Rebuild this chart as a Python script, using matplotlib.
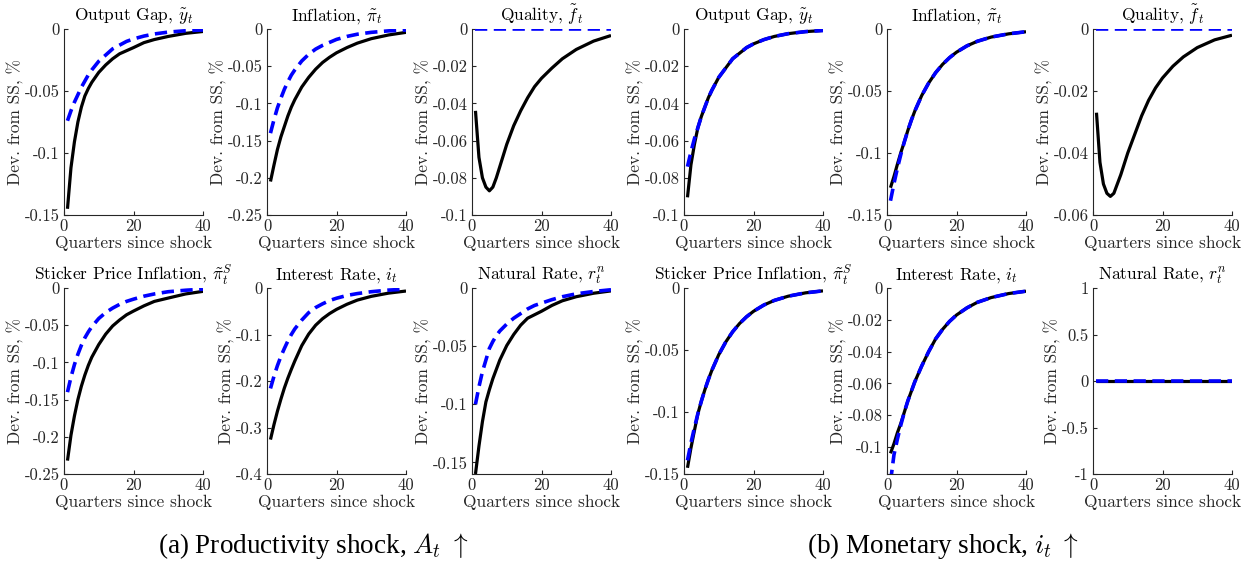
import matplotlib
matplotlib.use("Agg")
import matplotlib.pyplot as plt

plt.rcParams['font.family'] = 'serif'
plt.rcParams['font.serif'] = ['cmr10']
plt.rcParams['mathtext.fontset'] = 'cm'
plt.rcParams['axes.unicode_minus'] = False
plt.rcParams['axes.formatter.use_mathtext'] = True

Q = [1, 2, 3, 4, 5, 6, 7, 8, 10, 12, 14, 16, 18, 20, 23, 26, 30, 35, 40]

titles = ["Output Gap, $\\tilde{y}_t$", "Inflation, $\\tilde{\\pi}_t$", "Quality, $\\tilde{f}_t$",
          "Sticker Price Inflation, $\\tilde{\\pi}_t^S$", "Interest Rate, $i_t$", "Natural Rate, $r_t^n$"]

# (a) productivity shock: black = baseline, blue = comparison
a_gap_k = [-0.145, -0.112, -0.091, -0.075, -0.063, -0.054, -0.048, -0.043, -0.035, -0.029, -0.024, -0.020, -0.0175, -0.015, -0.011, -0.0085, -0.006, -0.0035, -0.002]
a_gap_b = [-0.074, -0.066, -0.059, -0.053, -0.047, -0.042, -0.037, -0.033, -0.026, -0.021, -0.016, -0.013, -0.010, -0.008, -0.0057, -0.004, -0.0025, -0.0014, -0.0008]
a_inf_k = [-0.205, -0.183, -0.162, -0.145, -0.131, -0.117, -0.105, -0.095, -0.078, -0.065, -0.054, -0.045, -0.038, -0.032, -0.025, -0.019, -0.013, -0.008, -0.0045]
a_inf_b = [-0.140, -0.122, -0.106, -0.093, -0.081, -0.071, -0.062, -0.055, -0.043, -0.034, -0.027, -0.022, -0.018, -0.014, -0.010, -0.007, -0.0045, -0.0025, -0.0014]
a_qual_k = [-0.044, -0.069, -0.080, -0.085, -0.087, -0.085, -0.080, -0.074, -0.062, -0.052, -0.044, -0.037, -0.031, -0.0265, -0.021, -0.016, -0.011, -0.0065, -0.0035]
a_qual_b = [0, 0, 0, 0, 0, 0, 0, 0, 0, 0, 0, 0, 0, 0, 0, 0, 0, 0, 0]
a_stk_k = [-0.232, -0.198, -0.172, -0.150, -0.132, -0.117, -0.104, -0.093, -0.076, -0.062, -0.051, -0.043, -0.036, -0.031, -0.024, -0.018, -0.0135, -0.008, -0.0045]
a_stk_b = [-0.140, -0.120, -0.103, -0.089, -0.077, -0.067, -0.059, -0.052, -0.041, -0.033, -0.027, -0.022, -0.018, -0.015, -0.011, -0.008, -0.005, -0.003, -0.0016]
a_int_k = [-0.326, -0.294, -0.265, -0.239, -0.215, -0.194, -0.175, -0.157, -0.124, -0.099, -0.080, -0.066, -0.055, -0.046, -0.035, -0.026, -0.018, -0.011, -0.0065]
a_int_b = [-0.216, -0.190, -0.167, -0.147, -0.130, -0.114, -0.100, -0.088, -0.069, -0.053, -0.042, -0.034, -0.027, -0.022, -0.016, -0.012, -0.008, -0.0045, -0.0025]
a_nat_k = [-0.160, -0.136, -0.115, -0.098, -0.0875, -0.078, -0.070, -0.062, -0.0495, -0.040, -0.032, -0.026, -0.023, -0.020, -0.015, -0.011, -0.0075, -0.0045, -0.0025]
a_nat_b = [-0.100, -0.085, -0.072, -0.062, -0.052, -0.046, -0.041, -0.037, -0.031, -0.026, -0.022, -0.018, -0.015, -0.013, -0.010, -0.0075, -0.005, -0.003, -0.0015]

# (b) monetary shock
b_gap_k = [-0.0905, -0.073, -0.062, -0.053, -0.047, -0.042, -0.037, -0.033, -0.026, -0.021, -0.016, -0.013, -0.010, -0.008, -0.0057, -0.004, -0.0025, -0.0014, -0.0008]
b_gap_b = [-0.074, -0.066, -0.059, -0.053, -0.047, -0.042, -0.037, -0.033, -0.026, -0.021, -0.016, -0.013, -0.010, -0.008, -0.0057, -0.004, -0.0025, -0.0014, -0.0008]
b_inf_k = [-0.128, -0.119, -0.109, -0.0995, -0.0909, -0.0818, -0.0736, -0.0662, -0.0536, -0.0435, -0.0352, -0.0285, -0.0231, -0.0187, -0.0136, -0.0099, -0.0065, -0.0039, -0.0022]
b_inf_b = [-0.1385, -0.1247, -0.1122, -0.1010, -0.0909, -0.0818, -0.0736, -0.0662, -0.0536, -0.0435, -0.0352, -0.0285, -0.0231, -0.0187, -0.0136, -0.0099, -0.0065, -0.0039, -0.0022]
b_qual_k = [-0.027, -0.043, -0.050, -0.053, -0.054, -0.053, -0.050, -0.047, -0.040, -0.034, -0.028, -0.023, -0.019, -0.0158, -0.012, -0.009, -0.006, -0.0035, -0.002]
b_qual_b = [0, 0, 0, 0, 0, 0, 0, 0, 0, 0, 0, 0, 0, 0, 0, 0, 0, 0, 0]
b_stk_k = [-0.145, -0.129, -0.115, -0.1013, -0.0912, -0.0821, -0.0739, -0.0665, -0.0538, -0.0436, -0.0353, -0.0286, -0.0232, -0.0188, -0.0137, -0.0100, -0.0066, -0.0039, -0.0023]
b_stk_b = [-0.139, -0.125, -0.1126, -0.1013, -0.0912, -0.0821, -0.0739, -0.0665, -0.0538, -0.0436, -0.0353, -0.0286, -0.0232, -0.0188, -0.0137, -0.0100, -0.0066, -0.0039, -0.0023]
b_int_k = [-0.104, -0.098, -0.091, -0.085, -0.078, -0.071, -0.065, -0.059, -0.049, -0.040, -0.032, -0.026, -0.021, -0.017, -0.0125, -0.009, -0.006, -0.0035, -0.002]
b_int_b = [-0.122, -0.105, -0.095, -0.086, -0.078, -0.071, -0.065, -0.059, -0.049, -0.040, -0.032, -0.026, -0.021, -0.017, -0.0125, -0.009, -0.006, -0.0035, -0.002]
b_nat_k = [0, 0, 0, 0, 0, 0, 0, 0, 0, 0, 0, 0, 0, 0, 0, 0, 0, 0, 0]
b_nat_b = [0, 0, 0, 0, 0, 0, 0, 0, 0, 0, 0, 0, 0, 0, 0, 0, 0, 0, 0]

a_series = [(a_gap_k, a_gap_b), (a_inf_k, a_inf_b), (a_qual_k, a_qual_b),
            (a_stk_k, a_stk_b), (a_int_k, a_int_b), (a_nat_k, a_nat_b)]
b_series = [(b_gap_k, b_gap_b), (b_inf_k, b_inf_b), (b_qual_k, b_qual_b),
            (b_stk_k, b_stk_b), (b_int_k, b_int_b), (b_nat_k, b_nat_b)]

a_yticks = [[0, -0.05, -0.1, -0.15], [0, -0.05, -0.1, -0.15, -0.2, -0.25], [0, -0.02, -0.04, -0.06, -0.08, -0.1],
            [0, -0.05, -0.1, -0.15, -0.2, -0.25], [0, -0.1, -0.2, -0.3, -0.4], [0, -0.05, -0.1, -0.15]]
a_ylims = [(-0.15, 0), (-0.25, 0), (-0.1, 0), (-0.25, 0), (-0.4, 0), (-0.16, 0)]
b_yticks = [[0, -0.02, -0.04, -0.06, -0.08, -0.1], [0, -0.05, -0.1, -0.15], [0, -0.02, -0.04, -0.06],
            [0, -0.05, -0.1, -0.15], [0, -0.02, -0.04, -0.06, -0.08, -0.1], [1, 0.5, 0, -0.5, -1]]
b_ylims = [(-0.1, 0), (-0.15, 0), (-0.06, 0), (-0.15, 0), (-0.117, 0), (-1, 1)]

W, H = 1245, 566
fig = plt.figure(figsize=(W / 100, H / 100), dpi=100)

lefts_a = [64, 267, 472]
lefts_b = [684, 887, 1093]
tops = [29, 288]
aw, ah = 139, 186
gray = '#262626'


def panel(left, top, k, b, title, yt, yl):
    ax = fig.add_axes([left / W, 1 - (top + ah) / H, aw / W, ah / H])
    ax.plot(Q, k, color='k', lw=2.3, solid_capstyle='butt')
    ax.plot(Q, b, color='#0000ff', lw=2.6, linestyle=(0, (3.4, 1.8)))
    ax.set_xlim(0, 40)
    ax.set_ylim(*yl)
    ax.set_xticks([0, 20, 40])
    ax.set_xticklabels(["0", "20", "40"])
    ax.set_yticks(yt)
    ax.set_yticklabels(["%g" % v for v in yt])
    for s in ['top', 'right']:
        ax.spines[s].set_visible(False)
    for s in ['left', 'bottom']:
        ax.spines[s].set_color(gray)
        ax.spines[s].set_linewidth(0.8)
    ax.tick_params(direction='in', length=3, width=0.8, colors=gray, labelsize=12, pad=3)
    ax.set_title(title, fontsize=12.5, color='k', pad=6)
    ax.set_xlabel("Quarters since shock", fontsize=12.5, color=gray, labelpad=1)
    ax.set_ylabel("Dev. from SS, %", fontsize=12.5, color=gray, labelpad=0.5)
    return ax


for i in range(6):
    r, c = divmod(i, 3)
    panel(lefts_a[c], tops[r], a_series[i][0], a_series[i][1], titles[i], a_yticks[i], a_ylims[i])
    panel(lefts_b[c], tops[r], b_series[i][0], b_series[i][1], titles[i], b_yticks[i], b_ylims[i])

fig.text(313 / W, 1 - 546 / H, "(a) Productivity shock, $A_t$ $\\uparrow$", ha='center', va='center',
         fontsize=19.5, family='Liberation Serif')
fig.text(943 / W, 1 - 546 / H, "(b) Monetary shock, $i_t$ $\\uparrow$", ha='center', va='center',
         fontsize=19.5, family='Liberation Serif')

fig.savefig("out.png", dpi=100)
